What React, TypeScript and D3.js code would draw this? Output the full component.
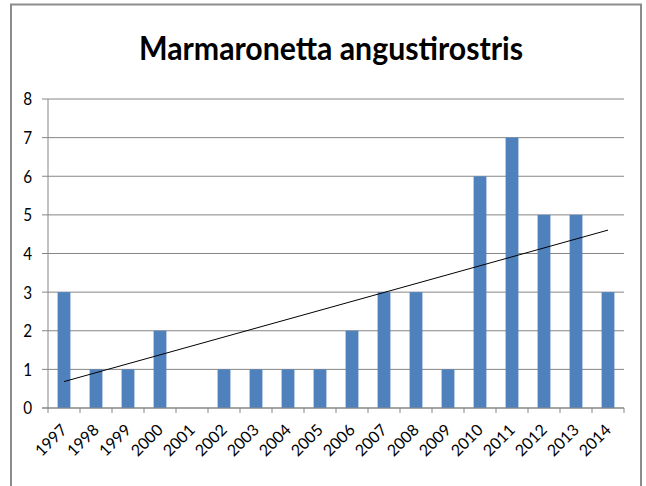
import React, { useEffect, useRef } from 'react';
import * as d3 from 'd3';

// data
const years = ['1997', '1998', '1999', '2000', '2001', '2002', '2003', '2004', '2005',
  '2006', '2007', '2008', '2009', '2010', '2011', '2012', '2013', '2014'];
// 2001 has no record (blank cell), so it is left out of the trend
const counts: (number | null)[] = [3, 1, 1, 2, null, 1, 1, 1, 1, 2, 3, 3, 1, 6, 7, 5, 5, 3];
const yTicks = [0, 1, 2, 3, 4, 5, 6, 7, 8];
const TITLE = 'Marmaronetta angustirostris';

export default function App() {
  const ref = useRef<SVGSVGElement>(null);
  /* SIZE */
  const WIDTH = 646;
  const HEIGHT = 486;
  const PLOT = { left: 48, right: 624, top: 99, bottom: 408 };
  /* COLOR */
  const BAR = '#4f81bd';
  const GRID = '#868686';
  const FONT = "Lato, 'Open Sans', sans-serif";

  function draw() {
    const svg = d3.select(ref.current);
    svg.selectAll('*').remove();

    svg.append('rect').attr('width', WIDTH).attr('height', HEIGHT).attr('fill', '#fff');

    // chart frame
    svg.append('rect')
      .attr('x', 11).attr('y', 4.5)
      .attr('width', 630).attr('height', 500)
      .attr('fill', 'none')
      .attr('stroke', '#8c8c8c')
      .attr('stroke-width', 2);

    const x = d3.scaleBand<string>()
      .domain(years)
      .range([PLOT.left, PLOT.right])
      .paddingInner(0.6)
      .paddingOuter(0.3);
    const y = d3.scaleLinear().domain([0, 8]).range([PLOT.bottom, PLOT.top]);
    const step = x.step();
    const cx = (d: string) => (x(d) as number) + x.bandwidth() / 2;

    // title
    svg.append('text')
      .attr('x', 331).attr('y', 60)
      .attr('text-anchor', 'middle')
      .attr('font-family', FONT)
      .attr('font-weight', 'bold')
      .attr('font-size', 33)
      .attr('textLength', 384)
      .attr('lengthAdjust', 'spacingAndGlyphs')
      .attr('fill', '#000')
      .text(TITLE);

    // gridlines + y ticks
    svg.append('g').selectAll('line')
      .data(yTicks)
      .enter()
      .append('line')
      .attr('x1', PLOT.left - 6).attr('x2', PLOT.right)
      .attr('y1', d => y(d)).attr('y2', d => y(d))
      .attr('stroke', GRID)
      .attr('stroke-width', 1);

    svg.append('g').selectAll('text')
      .data(yTicks)
      .enter()
      .append('text')
      .attr('transform', d => `translate(32,${y(d)}) scale(0.85,1)`)
      .attr('dy', '0.36em')
      .attr('text-anchor', 'end')
      .attr('font-family', FONT)
      .attr('font-size', 18)
      .attr('fill', '#000')
      .text(d => d);

    // bars
    svg.append('g').selectAll('rect')
      .data(years.map((yr, i) => ({ yr, v: counts[i] })).filter(d => d.v !== null))
      .enter()
      .append('rect')
      .attr('x', d => x(d.yr) as number)
      .attr('y', d => y(d.v as number))
      .attr('width', x.bandwidth())
      .attr('height', d => y(0) - y(d.v as number))
      .attr('fill', BAR);

    // axes
    svg.append('line')
      .attr('x1', PLOT.left).attr('x2', PLOT.left)
      .attr('y1', PLOT.top).attr('y2', PLOT.bottom)
      .attr('stroke', GRID);
    svg.append('line')
      .attr('x1', PLOT.left - 6).attr('x2', PLOT.right)
      .attr('y1', PLOT.bottom).attr('y2', PLOT.bottom)
      .attr('stroke', GRID);
    svg.append('g').selectAll('line')
      .data(d3.range(years.length + 1))
      .enter()
      .append('line')
      .attr('x1', i => PLOT.left + i * step).attr('x2', i => PLOT.left + i * step)
      .attr('y1', PLOT.bottom).attr('y2', PLOT.bottom + 5)
      .attr('stroke', GRID);

    // linear trend (least squares over recorded years)
    const pts = counts
      .map((v, i) => ({ i, v }))
      .filter(p => p.v !== null) as { i: number; v: number }[];
    const mx = d3.mean(pts, p => p.i) as number;
    const my = d3.mean(pts, p => p.v) as number;
    const slope = d3.sum(pts, p => (p.i - mx) * (p.v - my)) / d3.sum(pts, p => (p.i - mx) ** 2);
    const icpt = my - slope * mx;
    const trend = [0, years.length - 1].map(i => [cx(years[i]), y(icpt + slope * i)] as [number, number]);
    svg.append('path')
      .attr('d', d3.line()(trend))
      .attr('fill', 'none')
      .attr('stroke', '#000')
      .attr('stroke-width', 1);

    // x labels, rotated
    svg.append('g').selectAll('text')
      .data(years)
      .enter()
      .append('text')
      .attr('transform', d => `translate(${cx(d) + 4},${431}) rotate(-45)`)
      .attr('text-anchor', 'end')
      .attr('font-family', FONT)
      .attr('font-size', 16)
      .attr('fill', '#000')
      .text(d => d);
  }

  useEffect(() => {
    draw();
  }, []);

  return (
    <svg ref={ref} width={WIDTH} height={HEIGHT}
      style={{ position: 'absolute', left: 0, top: 0, display: 'block' }} />
  );
}
